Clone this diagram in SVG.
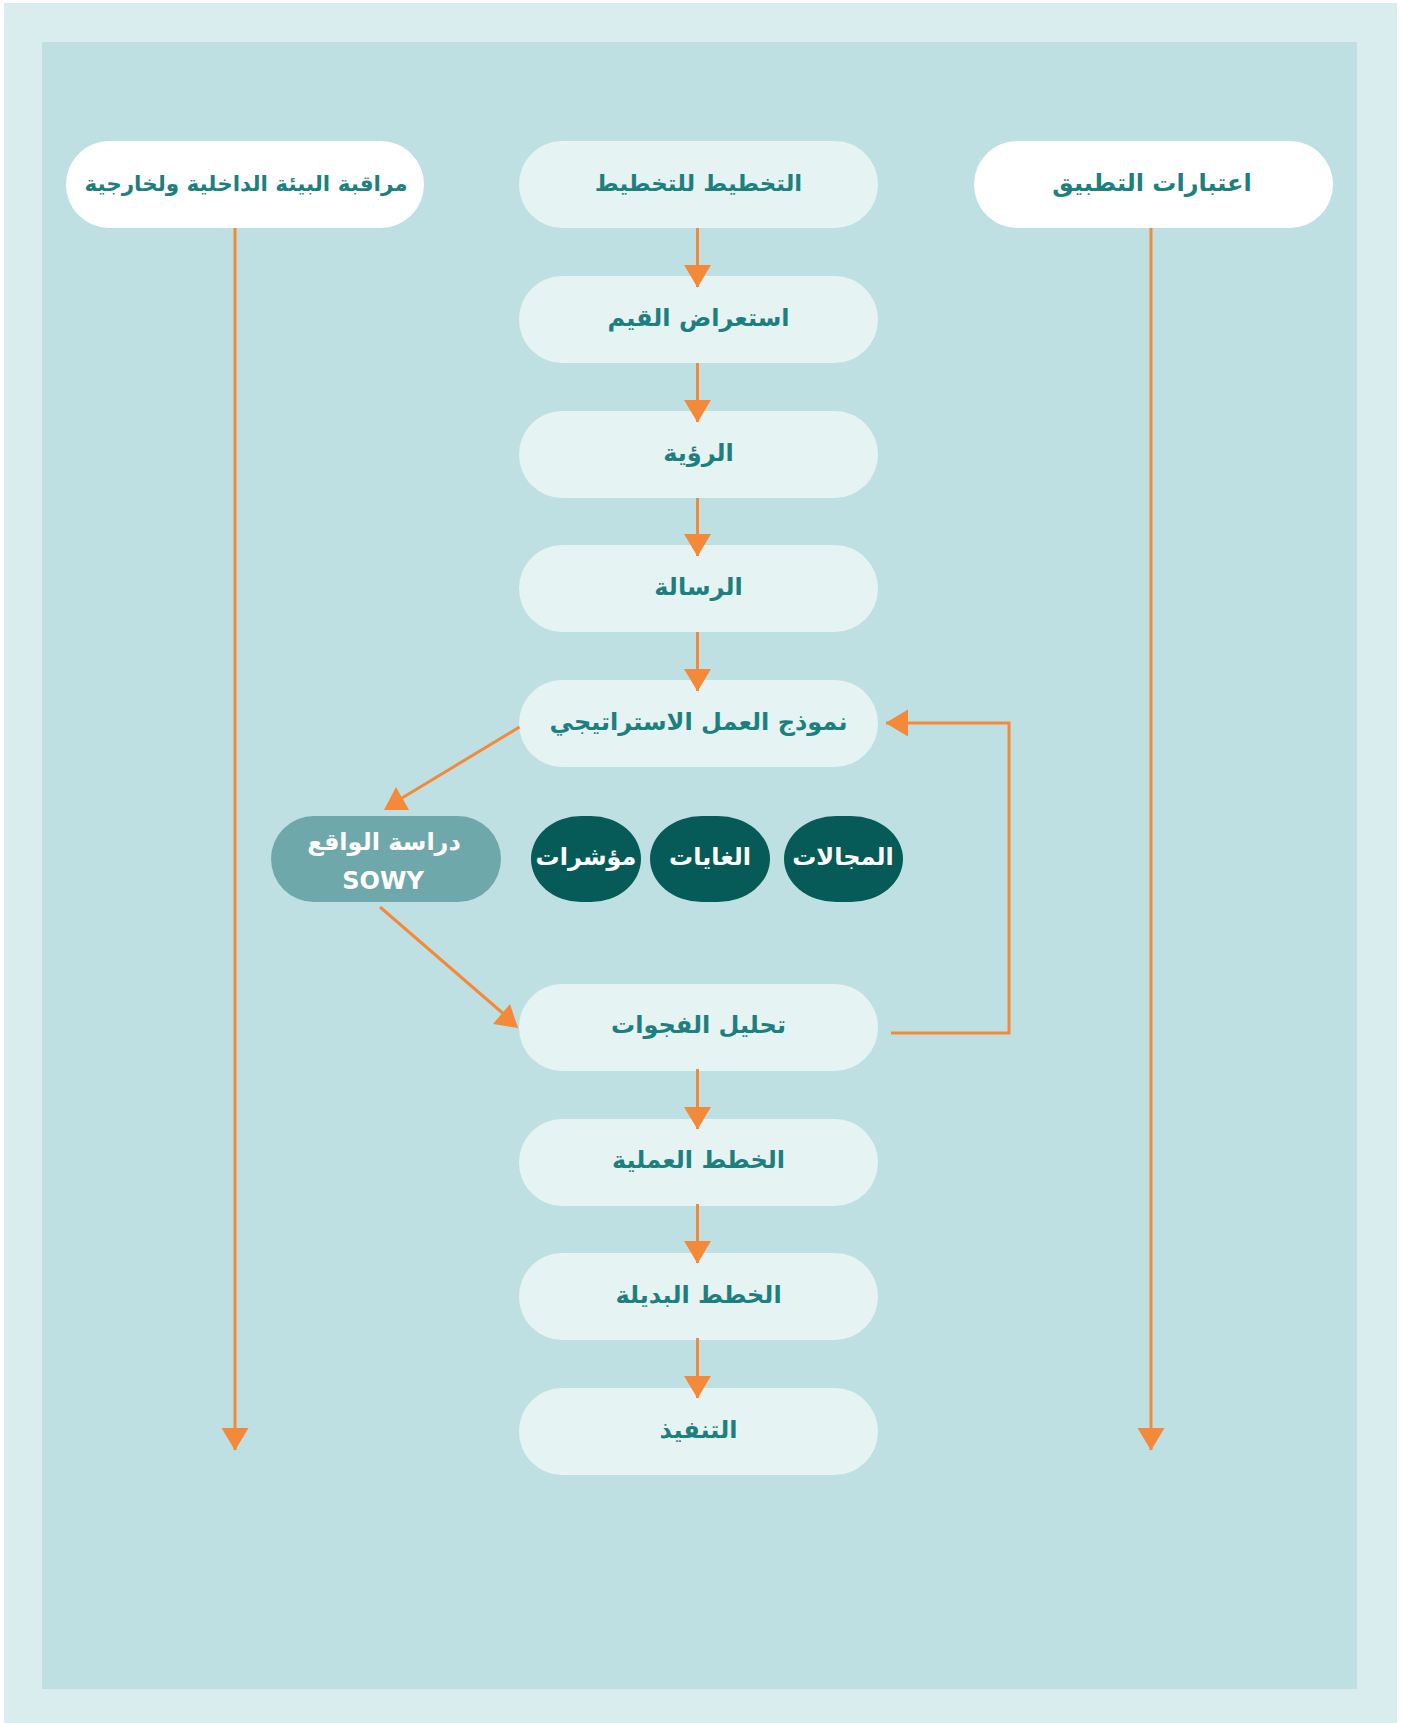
<svg xmlns="http://www.w3.org/2000/svg" width="1403" height="1723" viewBox="0 0 1403 1723">
<defs>
<style>
.step{fill:#e6f3f3}
.side{fill:#ffffff}
.dark{fill:#065b59}
.sowy{fill:#6fa8aa}
.t{font-family:"DejaVu Sans","Noto Sans",sans-serif;font-weight:bold;fill:#1d807f;text-anchor:middle;dominant-baseline:central}
.w{font-family:"DejaVu Sans","Noto Sans",sans-serif;font-weight:bold;fill:#ffffff;text-anchor:middle;dominant-baseline:central}
.ln{stroke:#f5893a;stroke-width:3;fill:none}
.hd{fill:#f5893a}
</style>
<marker id="ah" markerUnits="userSpaceOnUse" markerWidth="24" markerHeight="28" refX="22" refY="13.5" orient="auto">
<path d="M0,0 L22.5,13.5 L0,27 Z" fill="#f5893a"/>
</marker>
</defs>
<rect x="0" y="0" width="1403" height="1723" fill="#ffffff"/>
<rect x="4" y="3" width="1393" height="1720" fill="#d9edef"/>
<rect x="42" y="42" width="1315" height="1647" fill="#bfe0e2"/>

<g id="n-monitor"><rect class="side" x="66" y="141" width="358" height="87" rx="43.5"/><text class="t" x="246" y="183" font-size="21.5">مراقبة البيئة الداخلية ولخارجية</text></g>
<g id="n-apply"><rect class="side" x="974" y="141" width="359" height="87" rx="43.5"/><text class="t" x="1152" y="183" font-size="24">اعتبارات التطبيق</text></g>
<g id="n1"><rect class="step" x="519" y="141" width="359" height="87" rx="43.5"/><text class="t" x="698.5" y="183" font-size="23">التخطيط للتخطيط</text></g>
<g id="n2"><rect class="step" x="519" y="276" width="359" height="87" rx="43.5"/><text class="t" x="698.5" y="318" font-size="24">استعراض القيم</text></g>
<g id="n3"><rect class="step" x="519" y="411" width="359" height="87" rx="43.5"/><text class="t" x="698.5" y="453" font-size="24">الرؤية</text></g>
<g id="n4"><rect class="step" x="519" y="545" width="359" height="87" rx="43.5"/><text class="t" x="698.5" y="587" font-size="24">الرسالة</text></g>
<g id="n5"><rect class="step" x="519" y="680" width="359" height="87" rx="43.5"/><text class="t" x="698.5" y="722" font-size="24">نموذج العمل الاستراتيجي</text></g>
<g id="n-sowy"><rect class="sowy" x="271" y="816" width="230" height="86" rx="43"/><text class="w" x="384" y="842" font-size="24">دراسة الواقع</text><text class="w" x="383" y="881" font-size="24">SOWY</text></g>
<g id="n-kpi"><rect class="dark" x="531" y="816" width="110" height="86" rx="50" ry="43"/><text class="w" x="586" y="857" font-size="24">مؤشرات</text></g>
<g id="n-goals"><rect class="dark" x="650" y="816" width="120" height="86" rx="52" ry="43"/><text class="w" x="710" y="857" font-size="24">الغايات</text></g>
<g id="n-areas"><rect class="dark" x="784" y="816" width="119" height="86" rx="52" ry="43"/><text class="w" x="843" y="857" font-size="24">المجالات</text></g>
<g id="n6"><rect class="step" x="519" y="984" width="359" height="87" rx="43.5"/><text class="t" x="698.5" y="1025" font-size="24">تحليل الفجوات</text></g>
<g id="n7"><rect class="step" x="519" y="1119" width="359" height="87" rx="43.5"/><text class="t" x="698.5" y="1160" font-size="24">الخطط العملية</text></g>
<g id="n8"><rect class="step" x="519" y="1253" width="359" height="87" rx="43.5"/><text class="t" x="698.5" y="1295" font-size="24">الخطط البديلة</text></g>
<g id="n9"><rect class="step" x="519" y="1388" width="359" height="87" rx="43.5"/><text class="t" x="698.5" y="1430" font-size="24">التنفيذ</text></g>

<g id="connectors">
<line class="ln" x1="697.5" y1="228" x2="697.5" y2="287" marker-end="url(#ah)"/>
<line class="ln" x1="697.5" y1="363" x2="697.5" y2="422" marker-end="url(#ah)"/>
<line class="ln" x1="697.5" y1="498" x2="697.5" y2="556" marker-end="url(#ah)"/>
<line class="ln" x1="697.5" y1="632" x2="697.5" y2="691" marker-end="url(#ah)"/>
<line class="ln" x1="697.5" y1="1069" x2="697.5" y2="1129" marker-end="url(#ah)"/>
<line class="ln" x1="697.5" y1="1204" x2="697.5" y2="1263" marker-end="url(#ah)"/>
<line class="ln" x1="697.5" y1="1338" x2="697.5" y2="1398" marker-end="url(#ah)"/>
<line class="ln" x1="235" y1="228" x2="235" y2="1450" marker-end="url(#ah)"/>
<line class="ln" x1="1151" y1="228" x2="1151" y2="1450" marker-end="url(#ah)"/>
<polyline class="ln" points="891,1033 1009,1033 1009,723 886,723" marker-end="url(#ah)"/>
<line class="ln" x1="519.5" y1="727" x2="402" y2="798"/>
<polygon class="hd" points="396,787 384,810 409,810"/>
<line class="ln" x1="380" y1="907" x2="506" y2="1016"/>
<polygon class="hd" points="493,1024 510,1004 518,1028"/>
</g>
</svg>
